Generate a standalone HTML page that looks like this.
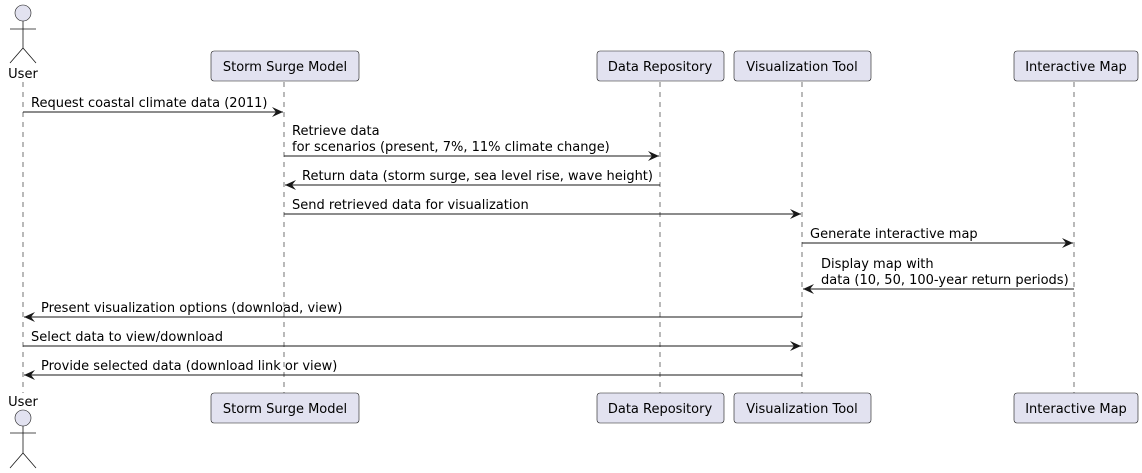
<!DOCTYPE html>
<html><head><meta charset="utf-8"><style>
html,body{margin:0;padding:0;background:#fff;}
svg{display:block;font-family:"DejaVu Sans","Liberation Sans",sans-serif;font-size:13px;}
</style></head><body>
<svg width="1142" height="473" viewBox="0 0 1142 473" xmlns="http://www.w3.org/2000/svg">
<defs><marker id="a" markerWidth="12" markerHeight="10" refX="11" refY="5" orient="auto" markerUnits="userSpaceOnUse"><path d="M0,0 L11,5 L0,10 L4,5 Z" fill="#181818"/></marker></defs>
<g stroke="#181818" stroke-width="0.6" stroke-dasharray="5,5">
<line x1="23" y1="82" x2="23" y2="393"/>
<line x1="284" y1="82" x2="284" y2="393"/>
<line x1="660" y1="82" x2="660" y2="393"/>
<line x1="802" y1="82" x2="802" y2="393"/>
<line x1="1074" y1="82" x2="1074" y2="393"/>
</g>
<g fill="#E2E2F0" stroke="#181818" stroke-width="0.6">
<rect x="211" y="51" width="148" height="30" rx="3"/>
<rect x="597" y="51" width="127" height="30" rx="3"/>
<rect x="734" y="51" width="137" height="30" rx="3"/>
<rect x="1014" y="51" width="124" height="30" rx="3"/>
<rect x="211" y="393" width="148" height="30" rx="3"/>
<rect x="597" y="393" width="127" height="30" rx="3"/>
<rect x="734" y="393" width="137" height="30" rx="3"/>
<rect x="1014" y="393" width="124" height="30" rx="3"/>
<circle cx="23" cy="13" r="8"/>
<circle cx="23" cy="418" r="8"/>
</g>
<g stroke="#181818" stroke-width="0.8" fill="none">
<path d="M23,21 V48 M10,29 H36 M10,63 L23,48 L36,63"/>
<path d="M23,426 V453 M10,433 H36 M10,468 L23,453 L36,468"/>
</g>
<g fill="#000">
<text x="285" y="71" text-anchor="middle">Storm Surge Model</text>
<text x="660" y="71" text-anchor="middle">Data Repository</text>
<text x="802" y="71" text-anchor="middle">Visualization Tool</text>
<text x="1076" y="71" text-anchor="middle">Interactive Map</text>
<text x="285" y="413" text-anchor="middle">Storm Surge Model</text>
<text x="660" y="413" text-anchor="middle">Data Repository</text>
<text x="802" y="413" text-anchor="middle">Visualization Tool</text>
<text x="1076" y="413" text-anchor="middle">Interactive Map</text>
<text x="23" y="78" text-anchor="middle">User</text>
<text x="23" y="406" text-anchor="middle">User</text>
</g>
<g stroke="#181818" stroke-width="1" marker-end="url(#a)">
<line x1="23" y1="112" x2="283" y2="112"/>
<line x1="284" y1="156" x2="659" y2="156"/>
<line x1="660" y1="185" x2="285" y2="185"/>
<line x1="284" y1="214" x2="801" y2="214"/>
<line x1="802" y1="243" x2="1073" y2="243"/>
<line x1="1074" y1="289" x2="803" y2="289"/>
<line x1="802" y1="317" x2="24" y2="317"/>
<line x1="23" y1="346" x2="801" y2="346"/>
<line x1="802" y1="375" x2="24" y2="375"/>
</g>
<g fill="#000">
<text x="31" y="107">Request coastal climate data (2011)</text>
<text x="292" y="135">Retrieve data</text>
<text x="292" y="151">for scenarios (present, 7%, 11% climate change)</text>
<text x="302" y="180">Return data (storm surge, sea level rise, wave height)</text>
<text x="292" y="209">Send retrieved data for visualization</text>
<text x="810" y="238">Generate interactive map</text>
<text x="821" y="268">Display map with</text>
<text x="821" y="284">data (10, 50, 100-year return periods)</text>
<text x="41" y="312">Present visualization options (download, view)</text>
<text x="31" y="341">Select data to view/download</text>
<text x="41" y="370">Provide selected data (download link or view)</text>
</g>
</svg>
</body></html>
